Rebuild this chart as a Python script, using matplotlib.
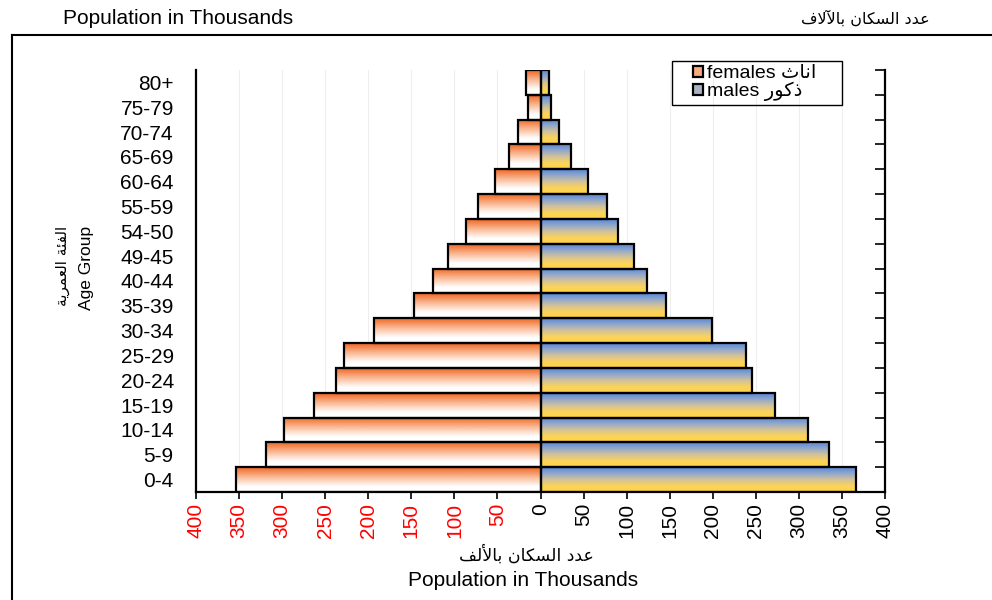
import numpy as np
import matplotlib
matplotlib.use('Agg')
import matplotlib.pyplot as plt
from matplotlib.colors import LinearSegmentedColormap
from matplotlib.patches import Patch, Rectangle
from matplotlib.lines import Line2D

# age groups, bottom to top
age_groups = ['0-4', '5-9', '10-14', '15-19', '20-24', '25-29', '30-34', '35-39',
              '40-44', '49-45', '54-50', '55-59', '60-64', '65-69', '70-74', '75-79', '80+']
females = [354, 319, 298, 263, 237, 228, 193, 147, 125, 107, 87, 73, 53, 36, 26, 15, 17]
males = [366, 335, 311, 272, 246, 239, 199, 146, 124, 109, 90, 77, 55, 35, 22, 12, 10]
xticks = list(range(-400, 401, 50))

LATIN = ['Liberation Sans', 'DejaVu Sans']
ARABIC = ['DejaVu Sans']

# matplotlib has no arabic shaping, so do it by hand with presentation forms
FORMS = {
    'ا': ('\uFE8D', '\uFE8E', None, None),
    'آ': ('\uFE81', '\uFE82', None, None),
    'أ': ('\uFE83', '\uFE84', None, None),
    'ئ': ('\uFE89', '\uFE8A', '\uFE8B', '\uFE8C'),
    'ب': ('\uFE8F', '\uFE90', '\uFE91', '\uFE92'),
    'ة': ('\uFE93', '\uFE94', None, None),
    'ث': ('\uFE99', '\uFE9A', '\uFE9B', '\uFE9C'),
    'د': ('\uFEA9', '\uFEAA', None, None),
    'ذ': ('\uFEAB', '\uFEAC', None, None),
    'ر': ('\uFEAD', '\uFEAE', None, None),
    'س': ('\uFEB1', '\uFEB2', '\uFEB3', '\uFEB4'),
    'ع': ('\uFEC9', '\uFECA', '\uFECB', '\uFECC'),
    'ف': ('\uFED1', '\uFED2', '\uFED3', '\uFED4'),
    'ك': ('\uFED9', '\uFEDA', '\uFEDB', '\uFEDC'),
    'ل': ('\uFEDD', '\uFEDE', '\uFEDF', '\uFEE0'),
    'م': ('\uFEE1', '\uFEE2', '\uFEE3', '\uFEE4'),
    'ن': ('\uFEE5', '\uFEE6', '\uFEE7', '\uFEE8'),
    'و': ('\uFEED', '\uFEEE', None, None),
    'ي': ('\uFEF1', '\uFEF2', '\uFEF3', '\uFEF4'),
}
LAM_ALEF = {'آ': ('\uFEF5', '\uFEF6'), 'أ': ('\uFEF7', '\uFEF8'), 'ا': ('\uFEFB', '\uFEFC')}


def shape(s):
    res = []
    prev_join = False
    i = 0
    while i < len(s):
        c = s[i]
        if c not in FORMS:
            res.append(c)
            prev_join = False
            i += 1
            continue
        if c == 'ل' and i + 1 < len(s) and s[i + 1] in LAM_ALEF:
            iso, fin = LAM_ALEF[s[i + 1]]
            res.append(fin if prev_join else iso)
            prev_join = False
            i += 2
            continue
        iso, fin, ini, med = FORMS[c]
        nxt = s[i + 1] if i + 1 < len(s) else None
        can_next = ini is not None and nxt in FORMS
        if prev_join and can_next:
            res.append(med)
        elif prev_join:
            res.append(fin)
        elif can_next:
            res.append(ini)
        else:
            res.append(iso)
        prev_join = can_next
        i += 1
    return ''.join(reversed(res))


fem_cmap = LinearSegmentedColormap.from_list(
    'fem', [(0, 'white'), (0.22, 'white'), (0.55, '#FAC4A6'), (0.85, '#F4874F'), (1, '#EE6626')])
male_cmap = LinearSegmentedColormap.from_list(
    'male', [(0, '#FFD546'), (0.25, '#FBD35A'), (0.5, '#D2C29C'), (0.78, '#8AA4CE'), (1, '#5A88D8')])


def gradient_fill(ax, bar, cmap):
    x0 = min(bar.get_x(), bar.get_x() + bar.get_width())
    x1 = max(bar.get_x(), bar.get_x() + bar.get_width())
    y0, y1 = bar.get_y(), bar.get_y() + bar.get_height()
    grad = np.linspace(0, 1, 64).reshape(-1, 1)
    im = ax.imshow(grad, cmap=cmap, aspect='auto', origin='lower',
                   extent=(x0, x1, y0, y1), zorder=1, interpolation='bicubic')
    im.set_clip_path(bar)


fig = plt.figure(figsize=(9.92, 6.0), dpi=100)
ax = fig.add_axes([196 / 992, 1 - 492 / 600, 689 / 992, 422 / 600])

y = np.arange(len(age_groups))
fbars = ax.barh(y, [-v for v in females], height=1.0, facecolor='none',
                edgecolor='black', linewidth=1.6, zorder=2)
mbars = ax.barh(y, males, height=1.0, facecolor='none',
                edgecolor='black', linewidth=1.6, zorder=2)
for b in fbars:
    gradient_fill(ax, b, fem_cmap)
for b in mbars:
    gradient_fill(ax, b, male_cmap)

ax.set_xlim(-400, 400)
ax.set_ylim(-0.5, len(age_groups) - 0.5)
ax.set_xticks(xticks)
ax.set_xticklabels([str(abs(t)) for t in xticks], rotation=90, fontsize=15, family=LATIN)
for t, lab in zip(xticks, ax.get_xticklabels()):
    if t < 0:
        lab.set_color('red')
ax.set_yticks(y)
ax.set_yticklabels(age_groups, fontsize=15, family=LATIN)
ax.set_yticks(np.arange(-0.5, len(age_groups), 1), minor=True)
ax.tick_params(axis='y', which='major', length=0, pad=16)
ax.tick_params(axis='y', which='minor', left=False, right=True, direction='in', length=7, width=1.2)
ax.tick_params(axis='x', which='major', direction='out', length=5, width=1.2, pad=3)
ax.grid(axis='x', color='#EEEEEE', linewidth=0.8, zorder=0)
ax.set_axisbelow(True)
ax.spines['top'].set_visible(False)
for s in ['left', 'right', 'bottom']:
    ax.spines[s].set_linewidth(1.6)

# legend: frameless legend inside a hand-drawn box
leg = ax.legend(
    [Patch(facecolor='#F7A981', edgecolor='black', linewidth=1.6),
     Patch(facecolor='#A9B3C4', edgecolor='black', linewidth=1.6)],
    ['females ' + shape('اناث'), 'males ' + shape('ذكور')],
    loc='upper left', bbox_to_anchor=(692 / 992, 1 - 64 / 600),
    bbox_transform=fig.transFigure, prop={'family': LATIN, 'size': 14},
    frameon=False, handlelength=0.5, handleheight=0.5, handletextpad=0.2,
    borderpad=0.05, labelspacing=0.0, borderaxespad=0)
fig.add_artist(Rectangle((672 / 992, 1 - 105 / 600), 170 / 992, 44 / 600,
                         transform=fig.transFigure, facecolor='none',
                         edgecolor='black', linewidth=1.0))

# axis titles
fig.text(87 / 992, 1 - 268 / 600, 'Age Group', rotation=90, fontsize=12.5,
         family=LATIN, ha='center', va='center')
fig.text(62 / 992, 1 - 266 / 600, shape('الفئة العمرية'), rotation=90, fontsize=11,
         family=ARABIC, ha='center', va='center')
fig.text(526 / 992, 1 - 555 / 600, shape('عدد السكان بالألف'), fontsize=12.5,
         family=ARABIC, ha='center', va='center')
fig.text(523 / 992, 1 - 581 / 600, 'Population in Thousands', fontsize=15,
         family=LATIN, ha='center', va='center')

# header
fig.text(63 / 992, 1 - 18 / 600, 'Population in Thousands', fontsize=15,
         family=LATIN, ha='left', va='center')
fig.text(930 / 992, 1 - 18 / 600, shape('عدد السكان بالآلاف'), fontsize=11.5,
         family=ARABIC, ha='right', va='center')

# outer frame (open to the right and bottom)
fig.add_artist(Line2D([12 / 992, 1], [1 - 35 / 600] * 2, transform=fig.transFigure,
                      color='black', linewidth=1.5))
fig.add_artist(Line2D([12 / 992] * 2, [0, 1 - 35 / 600], transform=fig.transFigure,
                      color='black', linewidth=1.5))

fig.savefig('out.png', dpi=100)
